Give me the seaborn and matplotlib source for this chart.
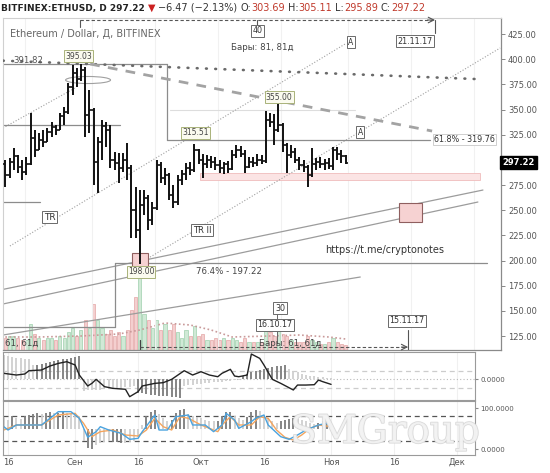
import matplotlib
matplotlib.use("Agg")
import matplotlib.pyplot as plt
import matplotlib.patheffects as pe
from matplotlib.patches import Rectangle, Ellipse
from matplotlib.transforms import blended_transform_factory
import numpy as np
import seaborn as sns

sns.set_style("white")
plt.rcParams['font.family'] = ['DejaVu Sans']

# ---------------- data (daily bars, ETH/USD Bitfinex) ----------------
opens = [296, 285, 298, 304, 293, 288, 296, 322, 310, 320, 318, 328, 333, 330, 344, 348, 372, 386, 380,
         389, 345, 350, 298, 318, 334, 330, 300, 297, 292, 300, 292, 250, 230, 255, 262, 240, 252, 295,
         282, 285, 265, 258, 280, 286, 292, 290, 310, 300, 296, 300, 298, 295, 292, 296, 291, 305, 310,
         306, 293, 298, 297, 300, 299, 340, 338, 330, 335, 315, 305, 308, 300, 295, 293, 285, 296, 298,
         296, 297, 294, 310, 306, 303.69]
highs = [300, 302, 312, 305, 300, 303, 347, 330, 327, 330, 332, 338, 335, 347, 352, 376, 394, 391, 395.03,
         392, 369, 351, 323, 340, 338, 335, 308, 307, 307, 317, 295, 273, 270, 270, 265, 258, 300, 298,
         292, 287, 275, 285, 290, 297, 298, 315.51, 311, 306, 305, 304, 303, 300, 298, 299, 310, 315,
         314, 310, 303, 303, 306, 305, 349, 347, 346, 355, 337, 317, 315, 312, 303, 300, 295, 312, 302,
         303, 301, 302, 313, 313, 310, 305.11]
lows = [273, 282, 290, 287, 280, 285, 295, 303, 310, 313, 318, 323, 325, 330, 335, 346, 364, 372, 378,
        323, 327, 275, 267, 300, 313, 292, 290, 277, 288, 280, 222, 222, 197, 245, 230, 235, 250, 277,
        275, 260, 252, 255, 275, 280, 285, 288, 296, 282, 292, 292, 290, 287, 286, 287, 290, 302, 303,
        287, 292, 293, 294, 296, 297, 333, 315, 328, 308, 287, 302, 297, 290, 288, 273, 283, 290, 292,
        290, 291, 290, 300, 297, 295.89]
closes = [285, 298, 304, 293, 288, 296, 322, 310, 320, 318, 328, 333, 330, 344, 348, 372, 386, 380, 389,
          345, 350, 298, 318, 334, 330, 300, 297, 292, 300, 292, 250, 230, 255, 262, 240, 252, 295, 282,
          285, 265, 258, 280, 286, 292, 290, 310, 300, 296, 300, 298, 295, 292, 296, 291, 305, 310, 306,
          293, 298, 297, 300, 299, 340, 338, 330, 335, 315, 305, 308, 300, 295, 293, 285, 296, 298, 296,
          297, 294, 310, 306, 303.69, 297.22]
volumes = [12, 14, 14, 12, 10, 10, 26, 16, 12, 10, 12, 12, 10, 14, 12, 18, 22, 14, 20, 30, 22, 46, 30,
           22, 16, 20, 14, 18, 14, 20, 40, 53, 75, 36, 30, 22, 30, 20, 26, 20, 26, 18, 12, 20, 14, 24,
           14, 16, 10, 10, 12, 10, 12, 10, 12, 10, 8, 12, 8, 8, 8, 8, 28, 18, 14, 20, 16, 14, 10, 8, 8,
           8, 14, 10, 8, 6, 6, 8, 12, 8, 6, 5]
vol_ma_bar = [0, 8, 18, 27, 32, 38, 44, 49, 54, 63, 70, 77, 81]
vol_ma_val = [13, 13, 14, 16, 20, 27, 25, 20, 13, 14, 15, 13, 11]

# lower panels: day offsets from 16 Aug
osc_days = [-1, 2, 4, 5, 8, 10, 12, 14, 16, 17, 19, 20, 21, 23, 25, 28, 29, 31, 32, 35, 37, 39, 42, 44,
            46, 48, 50, 51, 53, 54, 55, 57, 58, 60, 61, 63, 65, 68, 69, 71, 73, 74, 75, 77]
osc_vals = [0.67, 0.47, 0.59, 0.98, 1.06, 1.53, 1.84, 2.04, 1.65, 0.47, -0.82, -0.51, -0.04, -0.90,
            -1.10, -1.21, -2.08, -1.49, -0.82, -0.51, -0.43, -0.04, 0.98, 0.47, 0.86, 0.47, 0.27, 0.67,
            1.14, 0.35, 0.27, 0.47, 2.94, 2.43, 1.65, -0.04, -0.51, -1.29, -0.71, -0.71, -0.67, -0.12,
            -0.31, -0.63]
hist_days = list(range(-1, 78))
osc_hist = [2.8, 2.7, 2.6, 2.5, 2.45, 2.4, 2.35,
            1.6, 1.7, 1.8, 1.9, 2.0, 2.1, 2.2, 2.3, 2.4, 2.5, 2.6, 2.7,
            -1.4, -1.35, -1.3, -1.3, -1.25, -1.2, -1.2, -1.15, -1.1, -1.0, -0.95, -0.9, -0.85,
            -1.6, -1.7, -1.8, -1.85, -1.9, -1.95, -2.0, -2.05, -2.1, -2.15, -2.2,
            -0.8, -0.7, -0.65, -0.6, -0.55, -0.5, -0.45, -0.4, -0.35, -0.3, -0.25, -0.2, -0.15, -0.1,
            0.4, 0.6, 0.8, 1.0, 1.1, 1.2, 1.3, 1.4, 1.5, 1.55, 1.6,
            1.2, 1.0, 0.8, 0.6, 0.5, 0.4, 0.3, 0.25, 0.2, 0.15, 0.1]
k_days = [-1, 0, 2, 4, 8, 11, 12, 15, 17, 19, 21, 22, 24, 27, 29, 31, 32, 35, 36, 38, 40, 43, 44, 47,
          49, 51, 52, 54, 55, 58, 59, 61, 62, 65, 67, 69, 71, 74, 76, 77]
k_vals = [54.8, 46.7, 59, 59, 59, 83.5, 91.7, 91.7, 75.4, 28.7, 42.6, 54.8, 46.7, 38.5, 23.8, 26.2, 42.6,
          83.5, 46.7, 46.7, 79.4, 83.5, 59, 59, 42.6, 59, 87.6, 71.3, 50.8, 67.2, 75.4, 83.5, 59, 30.3,
          23.8, 34.4, 46.7, 59, 63.1, 54.8]
d_days = [-1, 2, 8, 12, 16, 18, 20, 22, 25, 28, 31, 33, 35, 37, 39, 41, 43, 46, 48, 50, 51, 53, 55, 58,
          60, 62, 64, 66, 68, 70, 72, 74, 77]
d_vals = [46.7, 59, 59, 83.5, 87.6, 63.1, 30.3, 42.6, 46.7, 34.4, 32, 46.7, 75.4, 54.8, 46.7, 79.4, 75.4,
          59, 50.8, 42.6, 59, 79.4, 59, 59, 79.4, 75.4, 46.7, 28.7, 22.1, 34.4, 50.8, 59, 54.8]
stoch_hist = [28, 22, 30, 26, 24,
              30, 34, 36, 38, 36, 38, 40, 38, 39, 40, 38, 36, 34, 30,
              -30, -48, -50, -40, -35, -33, -30, -32, -34, -36, -35, -33, -30,
              -20, 10, 30, 42, 46, 35,
              25, 20, 22, 38, 46, 48,
              35, 30, 28, 25, 22, 20, 18, 20,
              30, 40, 42, 30,
              25, 22, 28,
              40, 46, 44,
              30, 25, 20, 15,
              18, 22, 24, 25, 24, 22, 20,
              15, 12, 14, 18, 20, 16]
tick_days = [0, 16, 31, 46, 61, 77, 92, 107]
tick_labels = ["16", "Сен", "16", "Окт", "16", "Ноя", "16", "Дек"]
# 300.00 is hidden behind the last-price label in the reference
price_ticks = [125, 150, 175, 200, 225, 250, 275, 325, 350, 375, 400, 425]

# ---------------- figure ----------------
W, H = 550, 473
fig = plt.figure(figsize=(W / 100, H / 100), dpi=100)
fig.patch.set_facecolor('white')


def rect(l, t, r, b):
    return [l / W, 1 - b / H, (r - l) / W, (b - t) / H]


idx = np.arange(len(opens))
XL = (-0.55, 118.0)
YL = (111.1, 440.9)

axv = fig.add_axes(rect(3, 18, 501, 350), zorder=0)
ax = fig.add_axes(rect(3, 18, 501, 350), zorder=1)
ax.patch.set_visible(False)

# volume
vcol = ['#d0e9d6' if c >= o else '#f4cfcf' for o, c in zip(opens, closes)]
vedge = ['#9fd0ad' if c >= o else '#e3a6a6' for o, c in zip(opens, closes)]
axv.bar(idx, volumes, width=0.75, color=vcol, edgecolor=vedge, linewidth=0.5)
sns.lineplot(x=vol_ma_bar, y=vol_ma_val, ax=axv, color='#c99a9a', lw=1.2,
             linestyle=(0, (1, 1.5)), estimator=None, sort=False)
axv.set_xlim(*XL)
axv.set_ylim(0, 332)
axv.axis('off')

ax.set_xlim(*XL)
ax.set_ylim(*YL)

# grid (faint)
for d in tick_days:
    ax.axvline(d + 4.6, color='#f1f1f1', lw=0.8, zorder=0)

# ---- annotations: lines ----
def seg(x0, y0, x1, y1, **kw):
    ax.plot([x0, x1], [y0, y1], **kw)

solid = dict(color='#9c9c9c', lw=0.9, zorder=2)
seg(-0.55, 171.3, 113.7, 270.0, **solid)
seg(-0.55, 156.8, 112.5, 258.1, **solid)
seg(-0.55, 126.0, 84.5, 183.6, **solid)

dotted = dict(color='#a0a0a0', lw=0.8, ls=(0, (1, 1.6)), zorder=2)
seg(32.1, 197.5, 117.8, 411.1, **dotted)
seg(1.1, 214.4, 80.9, 415.1, **dotted)
seg(-0.55, 331.6, 16.6, 371.4, **dotted)

fib = dict(color='#8c8c8c', lw=0.9, zorder=2)
seg(-0.55, 395.03, 38.5, 395.03, **fib)
seg(38.5, 395.03, 38.5, 319.76, **fib)
seg(38.5, 319.76, 101.1, 319.76, **fib)
seg(26.1, 197.22, 114.7, 197.22, **fib)
seg(26.1, 197.22, 26.1, 134.0, **fib)
seg(-0.55, 134.0, 26.1, 134.0, **fib)
seg(-0.55, 334.6, 27.3, 334.6, **fib)
seg(-0.55, 258.0, 8.3, 258.0, **fib)
seg(39.2, 349.5, 83.3, 349.5, color='#dddddd', lw=0.8, zorder=1)

# big dotted level line and dashed trend line
seg(-0.55, 398.5, 111.8, 380.3, color='#6a6a6a', lw=1.9, ls=(0, (0.3, 3.2)),
    dash_capstyle='round', zorder=3)
seg(20.2, 395.2, 101.6, 328.6, color='#a3a3a3', lw=2.0, ls=(0, (3.5, 3)), zorder=3)

# zones
ax.add_patch(Rectangle((46.4, 280.0), 66.6, 6.9, fc='#fbe4e4', ec='#f0bcbc', lw=0.6, zorder=1))
ax.add_patch(Rectangle((93.7, 238.5), 5.5, 18.5, fc='#f6d2d2', ec='#8f5f5f', lw=0.8, zorder=3))
ax.add_patch(Rectangle((30.2, 193.5), 3.8, 14.0, fc='#f6d2d2', ec='#8f5f5f', lw=0.8, zorder=3))
ax.add_patch(Ellipse((19.7, 379.3), 10.7, 7.0, fill=False, ec='#a0a0a0', lw=0.8, zorder=4))

# ---- OHLC bars ----
ax.vlines(idx, lows, highs, colors='#111111', lw=1.4, zorder=5)
ax.hlines(opens, idx - 0.5, idx, colors='#111111', lw=1.2, zorder=5)
ax.hlines(closes, idx, idx + 0.5, colors='#111111', lw=1.2, zorder=5)

# ---- measurement tools ----
meas = dict(color='#555555', lw=0.8, ls=(0, (3, 2)), zorder=4)
seg(17.8, 438.9, 101.6, 438.9, **meas)
ax.annotate('', xy=(102.3, 438.9), xytext=(100.5, 438.9),
            arrowprops=dict(arrowstyle='->', color='#555', lw=0.8, shrinkA=0, shrinkB=0))
seg(17.8, 438.9, 17.8, 432.0, color='#555', lw=0.8)
seg(102.3, 438.9, 102.3, 426.0, color='#555', lw=0.8)
seg(60.0, 438.9, 60.0, 432.0, color='#555', lw=0.8)

seg(32.1, 114.0, 95.2, 114.0, **meas)
ax.annotate('', xy=(95.9, 114.0), xytext=(94.3, 114.0),
            arrowprops=dict(arrowstyle='->', color='#555', lw=0.8, shrinkA=0, shrinkB=0))
seg(95.9, 131.0, 95.9, 111.1, color='#555', lw=0.8)
seg(32.1, 121.0, 32.1, 111.1, color='#444', lw=0.9)
seg(64.7, 148.0, 64.7, 118.0, color='#666', lw=0.7)


def boxed(x, y, s, fs=5.8, ec='#6a6a6a', fc='white', color='#333333', pad=0.2, lw=0.7):
    ax.text(x, y, s, fontsize=fs, color=color, ha='center', va='center', zorder=9,
            bbox=dict(boxstyle=f'square,pad={pad}', fc=fc, ec=ec, lw=lw))


boxed(60.0, 428.0, "40")
boxed(97.5, 418.0, "21.11.17")
boxed(65.4, 152.8, "30")
boxed(64.2, 136.0, "16.10.17")
boxed(95.6, 140.0, "15.11.17")
boxed(10.6, 243.2, "TR", fs=6.5)
boxed(46.9, 230.3, "TR II", fs=6.0)
boxed(82.3, 417.0, "A", fs=5.5)
boxed(84.5, 327.6, "A", fs=5.5)
boxed(101.3 + 8.0, 320.5, "61.8% - 319.76", fs=5.8, ec='#c8c8c8', pad=0.1, lw=0.6)

# price labels for extremes
lab = dict(fs=5.5, ec='#a9b27a', fc='#fbfbef', color='#444', pad=0.15)
boxed(17.5, 403.1, "395.03", **lab)
boxed(65.2, 362.4, "355.00", **lab)
boxed(45.2, 326.7, "315.51", **lab)
boxed(32.3, 188.6, "198.00", **lab)

txt = dict(fontsize=6.2, color='#444444', ha='center', va='center', zorder=9)
ax.text(61.1, 411.1, "Бары: 81, 81д", **txt)
ax.text(67.8, 117.5, "Бары: 61, 61д", **txt)
ax.text(4.0, 117.5, "61, 61д", **txt)
ax.text(53.3, 188.6, "76.4% - 197.22", **txt)
ax.text(5.5, 399.0, "391.82", fontsize=6.2, color='#555', ha='center', va='center', zorder=9)
ax.text(90.2, 210.4, "https://t.me/cryptonotes", fontsize=7, color='#333', ha='center',
        va='center', zorder=9)
ax.text(0.015, 0.952, "Ethereum / Dollar, Д, BITFINEX", transform=ax.transAxes, fontsize=7,
        color='#666666', ha='left', va='center', zorder=9)

# axes styling (main)
ax.yaxis.tick_right()
ax.set_yticks(price_ticks)
ax.set_yticklabels([f"{v:.2f}" for v in price_ticks])
ax.tick_params(axis='y', length=3, width=0.7, color='#888', labelsize=6, labelcolor='#555', pad=2)
ax.set_xticks([])
for s in ['left', 'top']:
    ax.spines[s].set_color('#d0d0d0')
    ax.spines[s].set_linewidth(0.8)
for s in ['right', 'bottom']:
    ax.spines[s].set_color('#8a8a8a')
    ax.spines[s].set_linewidth(0.9)
trans = blended_transform_factory(ax.transAxes, ax.transData)
ax.text(1.003, closes[-1], f"{closes[-1]:.2f}", transform=trans, fontsize=6, color='white',
        fontweight='bold', ha='left', va='center', zorder=10,
        bbox=dict(boxstyle='square,pad=0.25', fc='black', ec='black'))

# ---------------- lower panels ----------------
XL2 = (-1.19, 111.3)
ax2 = fig.add_axes(rect(3, 352, 475, 400))
ax3 = fig.add_axes(rect(3, 401, 475, 455))


def shade(vals):
    out = []
    prev = None
    for v in vals:
        out.append('#7c7c7c' if (prev is not None and abs(v) > abs(prev)) else '#cfcfcf')
        prev = v
    return out


for a in (ax2, ax3):
    a.set_xlim(*XL2)
    for d in tick_days:
        a.axvline(d, color='#f0f0f0', lw=0.8, zorder=0)
    for s in a.spines.values():
        s.set_color('#9a9a9a')
        s.set_linewidth(0.8)
    a.yaxis.tick_right()
    a.tick_params(axis='y', length=2, color='#888', labelsize=5, labelcolor='#555', pad=2)

ax2.set_ylim(-2.47, 3.18)
ax2.axhline(1, color='#cccccc', lw=0.9, ls=(0, (4, 3)))
ax2.axhline(-1, color='#cccccc', lw=0.9, ls=(0, (4, 3)))
ax2.axhline(0, color='#bbbbbb', lw=0.8, ls=(0, (1, 2)))
ax2.vlines(hist_days, 0, osc_hist, colors=shade(osc_hist), lw=1.3, zorder=2)
sns.lineplot(x=osc_days, y=osc_vals, ax=ax2, color='#222222', lw=1.0, estimator=None, sort=False)
ax2.set_yticks([0])
ax2.set_yticklabels(["0.0000"])
ax2.set_xticks(tick_days)
ax2.tick_params(axis='x', length=0, labelbottom=False)
ax2.set_xlabel("")
ax2.set_ylabel("")

ax3.set_ylim(-14.7, 117.9)
ax3.axhline(80, color='#555555', lw=0.9, ls=(0, (4, 3)))
ax3.axhline(20, color='#555555', lw=0.9, ls=(0, (4, 3)))
ax3.vlines(hist_days, 50, [50 + h for h in stoch_hist], colors=shade(stoch_hist), lw=1.3, zorder=2)
sns.lineplot(x=d_days, y=d_vals, ax=ax3, color='#f4a55e', lw=1.0, estimator=None, sort=False)
sns.lineplot(x=k_days, y=k_vals, ax=ax3, color='#4aa3df', lw=1.0, estimator=None, sort=False)
ax3.set_yticks([0, 100])
ax3.set_yticklabels(["0.0000", "100.0000"])
ax3.set_xticks(tick_days)
ax3.set_xticklabels(tick_labels)
ax3.tick_params(axis='x', length=0, labelsize=6, labelcolor='#555', pad=2)
ax3.set_xlabel("")
ax3.set_ylabel("")

# watermark
fig.text(385 / W, 1 - 432 / H, "SMGroup", fontsize=28, family='DejaVu Serif', color='#f3f3f3',
         ha='center', va='center', zorder=20, alpha=0.9,
         path_effects=[pe.withStroke(linewidth=1.2, foreground='#d6d6d6')])

# ---------------- title line ----------------
renderer = fig.canvas.get_renderer()
parts = [("BITFINEX:ETHUSD, D 297.22", '#222222', 'bold', 6.5, 3),
         ("▼", '#cc2020', 'normal', 7, 3),
         ("−6.47 (−2.13%)", '#333333', 'normal', 7, 3),
         ("O:", '#333333', 'normal', 7, 0),
         ("303.69", '#c0392b', 'normal', 7, 3),
         ("H:", '#333333', 'normal', 7, 0),
         ("305.11", '#c0392b', 'normal', 7, 3),
         ("L:", '#333333', 'normal', 7, 0),
         ("295.89", '#c0392b', 'normal', 7, 3),
         ("C:", '#333333', 'normal', 7, 0),
         ("297.22", '#c0392b', 'normal', 7, 0)]
xp = 1.0
for s, c, wgt, fs, gap in parts:
    t = fig.text(xp / W, 1 - 8 / H, s, fontsize=fs, color=c, fontweight=wgt, ha='left', va='center')
    bb = t.get_window_extent(renderer=renderer)
    xp += bb.width + gap

fig.savefig("out.png", dpi=100, facecolor='white')
